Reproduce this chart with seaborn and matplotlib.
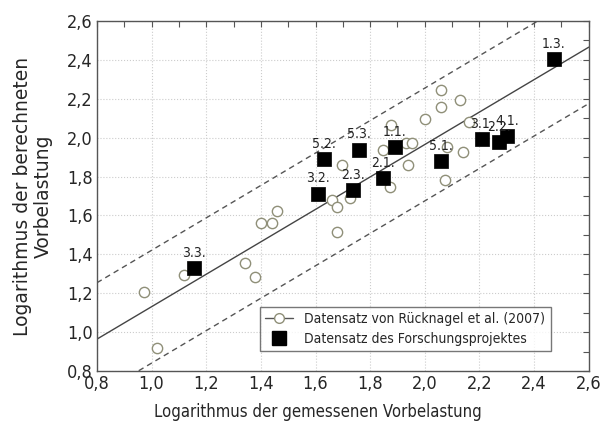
import numpy as np
import pandas as pd
import matplotlib
matplotlib.use('Agg')
import matplotlib.pyplot as plt
from matplotlib.ticker import MultipleLocator, FuncFormatter
from matplotlib.lines import Line2D
from matplotlib import font_manager
import seaborn as sns

# Datensatz von Ruecknagel et al. (2007) - open circles
ruck_x = [0.972, 1.020, 1.118, 1.342, 1.378, 1.400, 1.440, 1.459, 1.660, 1.678,
          1.678, 1.726, 1.698, 1.846, 1.876, 1.931, 1.952, 1.938, 1.872, 2.000,
          2.059, 2.059, 2.128, 2.161, 2.073, 2.139, 2.081]
ruck_y = [1.206, 0.918, 1.293, 1.355, 1.283, 1.561, 1.561, 1.623, 1.679, 1.643,
          1.515, 1.689, 1.859, 1.936, 2.065, 1.972, 1.972, 1.859, 1.746, 2.096,
          2.245, 2.158, 2.194, 2.080, 1.782, 1.926, 1.952]

# Datensatz des Forschungsprojektes - filled squares with labels
proj_labels = ['3.3.', '3.2.', '5.2.', '2.3.', '5.3.', '2.1.', '1.1.', '5.1.',
               '3.1.', '2.2.', '4.1.', '1.3.']
proj_x = [1.155, 1.609, 1.631, 1.737, 1.759, 1.846, 1.890, 2.059, 2.209, 2.271, 2.300, 2.472]
proj_y = [1.329, 1.712, 1.890, 1.731, 1.938, 1.792, 1.952, 1.880, 1.993, 1.978, 2.008, 2.405]

# regression line and prediction band
slope = 0.834
intercept = 0.297
band = 0.29

ruck = pd.DataFrame({'x': ruck_x, 'y': ruck_y})
proj = pd.DataFrame({'x': proj_x, 'y': proj_y, 'label': proj_labels})

sns.set_theme(style='white')
names = {f.name for f in font_manager.fontManager.ttflist}
condensed = [n for n in ['Liberation Sans Narrow', 'DejaVu Sans Condensed'] if n in names]
plt.rcParams['font.family'] = condensed + ['DejaVu Sans']
plt.rcParams['font.stretch'] = 'condensed'

fig = plt.figure(figsize=(6.02, 4.33), dpi=100)
ax = fig.add_axes([0.161, 0.143, 0.817, 0.8085])

# fit line + dashed bands
xs = np.array([0.8, 2.6])
ax.plot(xs, intercept + slope * xs, color='#444444', lw=1.0, zorder=2)
ax.plot(xs, intercept + band + slope * xs, color='#555555', lw=1.0, ls=(0, (4, 3)), zorder=2)
ax.plot(xs, intercept - band + slope * xs, color='#555555', lw=1.0, ls=(0, (4, 3)), zorder=2)

circ_col = '#8f8f78'
sns.scatterplot(data=ruck, x='x', y='y', ax=ax, marker='o', s=55,
                facecolor='white', edgecolor=circ_col, linewidth=1.0, zorder=3)
sns.scatterplot(data=proj, x='x', y='y', ax=ax, marker='s', s=110,
                color='black', edgecolor='black', linewidth=0.5, zorder=4)

for _, r in proj.iterrows():
    ax.annotate(r['label'], (r['x'], r['y']), xytext=(0, 6), textcoords='offset points',
                ha='center', va='bottom', fontsize=10, color='#222222', zorder=5)

ax.set_xlim(0.8, 2.6)
ax.set_ylim(0.8, 2.6)
ax.xaxis.set_major_locator(MultipleLocator(0.2))
ax.yaxis.set_major_locator(MultipleLocator(0.2))
ax.xaxis.set_minor_locator(MultipleLocator(0.1))
ax.yaxis.set_minor_locator(MultipleLocator(0.1))
comma = FuncFormatter(lambda v, p: f'{v:.1f}'.replace('.', ','))
ax.xaxis.set_major_formatter(comma)
ax.yaxis.set_major_formatter(comma)
ax.tick_params(which='both', direction='in', top=True, right=True, length=4,
               width=0.8, color='#555555', labelsize=13, pad=3)
ax.grid(True, which='major', color='#cccccc', ls=':', lw=0.8)
for s in ax.spines.values():
    s.set_color('#555555')
    s.set_linewidth(1.0)

ax.set_xlabel('Logarithmus der gemessenen Vorbelastung', fontsize=12)
ax.xaxis.set_label_coords(0.45, -0.09)
ax.set_ylabel('Logarithmus der berechneten\nVorbelastung', fontsize=13.5,
              fontstretch='normal', family='DejaVu Sans', linespacing=1.1)
ax.yaxis.set_label_coords(-0.09, 0.5)

handles = [
    Line2D([0], [0], color='#555555', lw=1, marker='o', markersize=7,
           markerfacecolor='white', markeredgecolor=circ_col),
    Line2D([0], [0], color='black', lw=0, marker='s', markersize=10),
]
leg = ax.legend(handles, ['Datensatz von Rücknagel et al. (2007)',
                          'Datensatz des Forschungsprojektes'],
                loc='lower left', bbox_to_anchor=(0.317, 0.037), fontsize=10,
                frameon=True, fancybox=False, edgecolor='#555555', handlelength=2.0,
                borderpad=0.4, labelspacing=0.4)
leg.get_frame().set_linewidth(1.0)

fig.savefig('out.png', dpi=100)
